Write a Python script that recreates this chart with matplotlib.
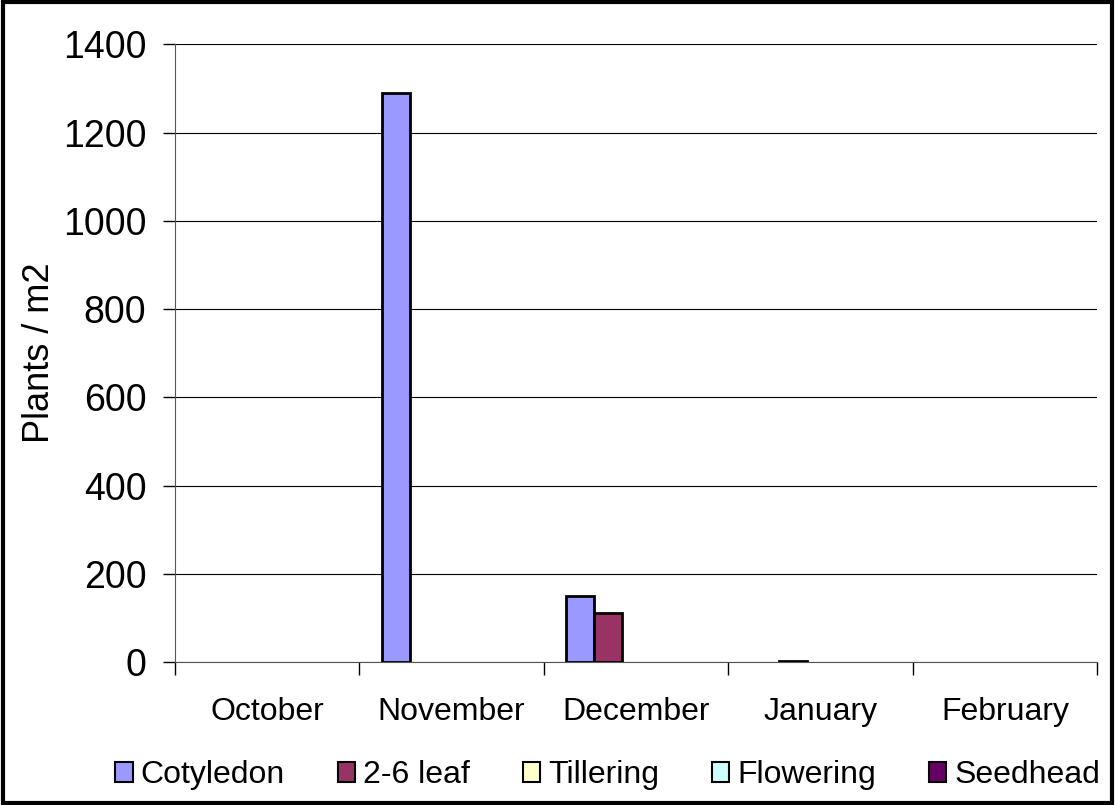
import numpy as np
import matplotlib.pyplot as plt
from matplotlib.patches import Rectangle

plt.rcParams['font.family'] = ['Liberation Sans', 'DejaVu Sans']

months = ["October", "November", "December", "January", "February"]
stages = ["Cotyledon", "2-6 leaf", "Tillering", "Flowering", "Seedhead"]
cotyledon = [0, 1289, 150, 0, 0]
leaf_2_6 = [0, 0, 111, 3, 0]
tillering = [0, 0, 0, 0, 0]
flowering = [0, 0, 0, 0, 0]
seedhead = [0, 0, 0, 0, 0]
colors = ["#9999FF", "#993366", "#FFFFCC", "#CCFFFF", "#660066"]

series = [cotyledon, leaf_2_6, tillering, flowering, seedhead]

fig = plt.figure(figsize=(11.15, 8.05), dpi=100)
ax = fig.add_axes([0.157, 0.1776, 0.827, 0.7674])

x = np.arange(len(months))
w = 0.151
for i, (vals, name, c) in enumerate(zip(series, stages, colors)):
    vals = np.array(vals, dtype=float)
    # zero bars get no outline
    ax.bar(x + (i - 2) * w, vals, w, color=c,
           edgecolor=np.where(vals > 0, 'black', 'none').tolist(),
           linewidth=2, label=name, zorder=3)

ax.set_xlim(-0.5, 4.5)
ax.set_ylim(0, 1400)
ax.set_yticks(range(0, 1401, 200))
ax.yaxis.grid(True, color='black', linewidth=0.8, zorder=0)
ax.tick_params(axis='y', labelsize=27, length=8.6, width=1, direction='out', pad=12)

ax.set_xticks(x)
ax.set_xticklabels(months, fontsize=23)
ax.tick_params(axis='x', length=0, pad=25)
ax.set_xticks(np.arange(-0.5, 5, 1), minor=True)
ax.tick_params(axis='x', which='minor', length=9, width=1, direction='out')

for s in ['top', 'right']:
    ax.spines[s].set_visible(False)
ax.spines['left'].set_color('#555555')
ax.spines['bottom'].set_color('#555555')

ax.set_ylabel("Plants / m2", fontsize=26, labelpad=4)

handles = [Rectangle((0, 0), 1, 1, facecolor=c, edgecolor='black', linewidth=1.5) for c in colors]
fig.legend(handles, stages, loc='center', bbox_to_anchor=(0.545, 0.037), ncol=5,
           fontsize=23, frameon=False, handlelength=0.55, handleheight=0.6,
           handletextpad=0.25, columnspacing=1.65)

fig.add_artist(Rectangle((0.003, 0.003), 0.994, 0.994, transform=fig.transFigure,
                         fill=False, edgecolor='black', linewidth=3))

plt.savefig("out.png", dpi=100)
